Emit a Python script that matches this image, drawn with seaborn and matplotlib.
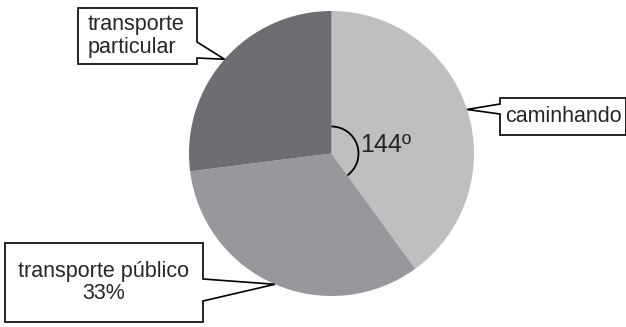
import numpy as np
import matplotlib
matplotlib.use("Agg")
import matplotlib.pyplot as plt
from matplotlib.patches import Arc, Polygon
import seaborn as sns

# data
categories = ["caminhando", "transporte público", "transporte particular"]
shares = [40, 33, 27]  # percent (caminhando = 144 degrees)
colors = ["#bebfc1", "#97989b", "#6d6e71"]
angle_label = "144º"

sns.set_theme(style="white")
plt.rcParams["font.family"] = ["Liberation Sans", "DejaVu Sans"]

W, H = 626, 327
fig = plt.figure(figsize=(W / 100, H / 100), dpi=100)
ax = fig.add_axes([0, 0, 1, 1])

cx, cy, r = 331.5, H - 153.5, 142.5
wedges, _ = ax.pie(shares, colors=colors, startangle=90, counterclock=False,
                   center=(cx, cy), radius=r, frame=True,
                   wedgeprops=dict(linewidth=0, edgecolor="none"))
ax.set_xlim(0, W)
ax.set_ylim(0, H)
ax.set_aspect("equal")
ax.axis("off")

# angle arc for caminhando
w0 = wedges[0]
ax.add_patch(Arc((cx, cy), 54, 54, theta1=w0.theta1, theta2=w0.theta2,
                 color="black", lw=1.3))
ax.text(cx + 29, cy + 9, angle_label, fontsize=18, va="center", ha="left")

def callout(wedge, box, attach, text, align="center"):
    # box: (x0, y0, x1, y1) ; attach: (side, ya, yb) pointer base on box edge
    mid = np.deg2rad((wedge.theta1 + wedge.theta2) / 2)
    tip = (cx + r * np.cos(mid), cy + r * np.sin(mid))
    x0, y0, x1, y1 = box
    side, ya, yb = attach
    if side == "right":
        pts = [(x0, y0), (x1, y0), (x1, ya), tip, (x1, yb), (x1, y1), (x0, y1)]
    else:
        pts = [(x0, y0), (x1, y0), (x1, y1), (x0, y1), (x0, yb), tip, (x0, ya)]
    ax.add_patch(Polygon(pts, closed=True, facecolor="white",
                         edgecolor="black", lw=1.2, zorder=5))
    tx = (x0 + x1) / 2 if align == "center" else x0 + 10
    ax.text(tx, (y0 + y1) / 2, text, fontsize=15.5, ha=align, ma=align,
            va="center", zorder=6, linespacing=1.08)

callout(wedges[2], (78, H - 64, 197, H - 8), ("right", H - 58, H - 42),
        "transporte\nparticular", align="left")
callout(wedges[0], (500, H - 135, 626, H - 98), ("left", H - 114, H - 104),
        categories[0])
callout(wedges[1], (5, H - 322, 203, H - 243), ("right", H - 301, H - 279),
        categories[1] + "\n" + f"{shares[1]}%")

fig.savefig("out.png", dpi=100, facecolor="white")
